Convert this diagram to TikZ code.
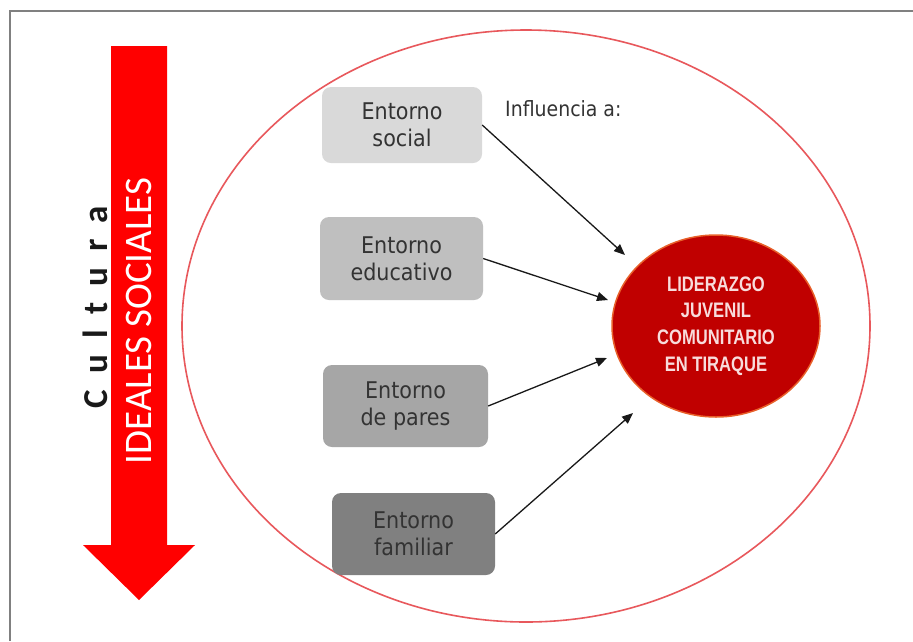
\documentclass[tikz,border=0pt]{standalone}
\usepackage{fontspec}
\setmainfont{DejaVu Sans}
\newfontfamily\boxfont[FakeStretch=0.9]{DejaVu Sans}
\newfontfamily\capfont[FakeStretch=0.79]{Liberation Sans}
\newfontfamily\calfont{Carlito}
\usetikzlibrary{shapes.geometric,arrows.meta}
\definecolor{ringred}{HTML}{E8585C}
\definecolor{arrowred}{HTML}{FF0000}
\definecolor{corered}{HTML}{C00000}
\definecolor{coreedge}{HTML}{E8602A}
\definecolor{coretext}{HTML}{F8DCDC}
\definecolor{boxtext}{HTML}{333333}
\definecolor{gA}{HTML}{D9D9D9}
\definecolor{gB}{HTML}{BFBFBF}
\definecolor{gC}{HTML}{A6A6A6}
\definecolor{gD}{HTML}{808080}
\tikzset{
  envbox/.style={rounded corners=9pt, inner sep=0pt, align=center,
    text=boxtext, font=\boxfont\fontsize{23}{27}\selectfont},
  link/.style={draw=black!90, line width=1.3pt, -{Triangle[length=11pt,width=9pt]}},
}
\begin{document}
\begin{tikzpicture}[x=1pt,y=-1pt]
\useasboundingbox[fill=white] (0,0) rectangle (913,641);
% frame
\draw[draw=black!50, line width=2.2pt] (10,641) -- (10,11) -- (913,11);
% outer ring
\draw[draw=ringred, line width=1.6pt] (526,326) ellipse [x radius=344, y radius=296];
% big red arrow
\fill[arrowred] (111,46) -- (167,46) -- (167,545) -- (195,545) -- (139,600) -- (83,545) -- (111,545) -- cycle;
\node (ideales) [rotate=90, text=white, font=\calfont\fontsize{39}{39}\selectfont, inner sep=0pt] at (139,321) {IDEALES SOCIALES};
\node (cultura) [rotate=90, text=black!90, font=\calfont\bfseries\fontsize{35}{35}\selectfont, inner sep=0pt] at (95,307) {\spaceskip=16pt C u l t u r a};
% boxes
\node (social) [envbox, fill=gA, minimum width=160pt, minimum height=76pt] at (402,125) {Entorno\\social};
\node (educ) [envbox, fill=gB, minimum width=163pt, minimum height=83pt] at (401.5,258.5) {Entorno\\educativo};
\node (pares) [envbox, fill=gC, minimum width=165pt, minimum height=82pt] at (405.5,406) {Entorno\\de pares};
\node (fam) [envbox, fill=gD, minimum width=163pt, minimum height=82pt] at (413.5,534) {Entorno\\familiar};
% label
\node (infl) [anchor=base west, inner sep=0pt, text=boxtext, font=\boxfont\fontsize{21}{21}\selectfont] at (505,116) {Influencia a:};
% core
\node (core) [ellipse, fill=corered, draw=coreedge, line width=1.5pt, minimum width=208pt, minimum height=182pt, inner sep=0pt, align=center, text=coretext, font=\capfont\bfseries\fontsize{21}{26.7}\selectfont] at (716,326) {LIDERAZGO\\JUVENIL\\COMUNITARIO\\EN TIRAQUE};
% arrow ends
\coordinate (e1) at (625,255);
\coordinate (e2) at (608,300);
\coordinate (e3) at (607,358);
\coordinate (e4) at (633,413);
\draw[link] (social.east) -- (e1);
\draw[link] (educ.east) -- (e2);
\draw[link] (pares.east) -- (e3);
\draw[link] (fam.east) -- (e4);
\end{tikzpicture}
\end{document}
